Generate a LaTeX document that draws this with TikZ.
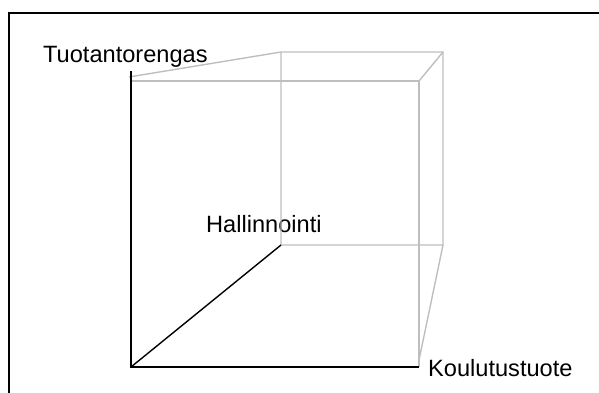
\documentclass[tikz,border=0pt]{standalone}
\usepackage{fontspec}
\setmainfont{Liberation Sans}
\usepackage{tikz}
\usepackage{xcolor}
\usetikzlibrary{positioning,calc}
\definecolor{edge}{HTML}{BEBEBE}
\definecolor{ink}{HTML}{000000}
\tikzset{
  frame/.style={draw=ink, line width=1.7pt},
  axis/.style={draw=ink, line width=1.4pt},
  hidden/.style={draw=edge, line width=1.4pt},
  axislabel/.style={anchor=base west, inner sep=0pt, text=ink,
                    font=\fontsize{23.6}{28}\selectfont}
}
\begin{document}
\begin{tikzpicture}[x=1pt,y=-1pt]
        \useasboundingbox (0,0) rectangle (599,392);
        \clip (0,0) rectangle (599,392);
        \draw[frame] (9,13) rectangle (610,400);
        % cube corners
        \coordinate (o)   at (131,367);
        \coordinate (top) at (131,71);
        \coordinate (ftl) at (131,81);
        \coordinate (fsl) at (129,77);
        \coordinate (ftr) at (419,81);
        \coordinate (fbr) at (419,367);
        \coordinate (fsr) at (419,360);
        \coordinate (btl) at (281,52);
        \coordinate (btr) at (443,52);
        \coordinate (bbl) at (281,245);
        \coordinate (bbr) at (443,245);
        \node[axislabel] (tuot) at (43,62) {Tuotantorengas};
        \node[axislabel] (hall) at (206,232) {Hallinnointi};
        \node[axislabel] (koul) at (428,376) {Koulutustuote};
        \draw[hidden] (ftl) -- (ftr) -- (fbr);
        \draw[hidden] (fsl) -- (btl) -- (btr) -- (bbr) -- (bbl) -- (btl);
        \draw[hidden] (ftr) -- (btr);
        \draw[hidden] (bbr) -- (fsr);
        \draw[axis] (top) -- (o) -- (fbr);
        \draw[axis] (o) -- (bbl);
      \end{tikzpicture}
\end{document}
